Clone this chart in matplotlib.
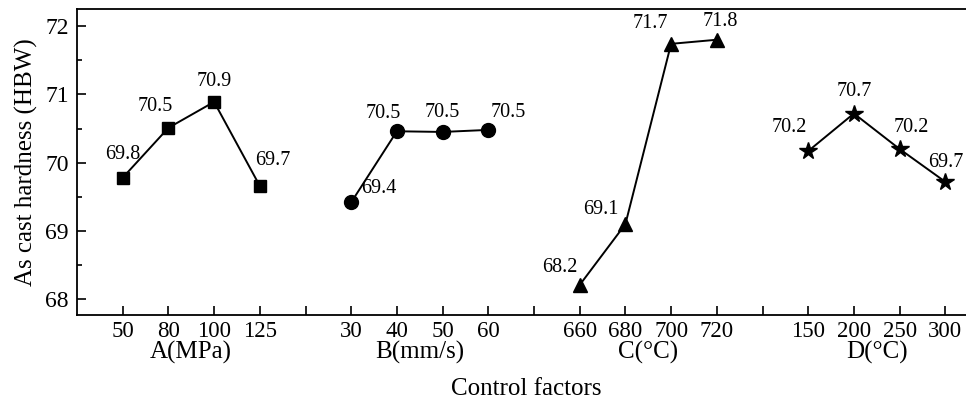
import matplotlib
matplotlib.use("Agg")
import matplotlib.pyplot as plt

plt.rcParams['font.family'] = ['Liberation Serif', 'DejaVu Serif']

# factor levels and mean hardness
factors = ["A(MPa)", "B(mm/s)", "C(\u00b0C)", "D(\u00b0C)"]
levels_A = ["50", "80", "100", "125"]
levels_B = ["30", "40", "50", "60"]
levels_C = ["660", "680", "700", "720"]
levels_D = ["150", "200", "250", "300"]
hard_A = [69.78, 70.51, 70.89, 69.66]
hard_B = [69.42, 70.46, 70.45, 70.48]
hard_C = [68.21, 69.10, 71.74, 71.80]
hard_D = [70.17, 70.72, 70.20, 69.72]

levels = [levels_A, levels_B, levels_C, levels_D]
hards = [hard_A, hard_B, hard_C, hard_D]
markers = ["s", "o", "^", "*"]
msizes = [9, 10, 10, 13]
# label offsets in pixels (dx, dy)
offs = [
    [(0, 23), (-13, 21), (0, 20), (13, 25)],
    [(28, 14), (-14, 18), (0, 19), (20, 17)],
    [(-20, 17), (-25, 15), (-21, 20), (4, 18)],
    [(-19, 24), (0, 22), (12, 22), (1, 19)],
]

fig = plt.figure(figsize=(9.66, 4), dpi=100)
ax = fig.add_axes([77/966, 85/400, 914/966, 306/400])

ticks = []
ticklabels = []
for g in range(4):
    x = [5*g + 1 + i for i in range(4)]
    ax.plot(x, hards[g], color="black", lw=1.4, marker=markers[g],
            ms=msizes[g], mfc="black", mec="black")
    for i in range(4):
        ax.annotate(f"{hards[g][i]:.1f}", (x[i], hards[g][i]),
                    xytext=offs[g][i], textcoords="offset pixels",
                    ha="center", va="center", fontsize=14.5)
    ticks += x + [5*g + 5]
    ticklabels += levels[g] + [""]
    ax.annotate(factors[g], (5*g + 2.5, 0), xycoords=("data", "axes fraction"),
                xytext=(0, -37), textcoords="offset pixels",
                ha="center", va="center", fontsize=18)

ax.set_xticks(ticks[:-1])
ax.set_xticklabels(ticklabels[:-1])
ax.set_xlim(0, 20)
ax.set_ylim(67.77, 72.25)
ax.set_yticks([68, 69, 70, 71, 72])
ax.set_yticks([68.5, 69.5, 70.5, 71.5], minor=True)

ax.tick_params(direction="in", length=6.5, width=1.2, labelsize=17, pad=6)
ax.tick_params(axis="y", which="minor", direction="in", length=3.5, width=1.2)
ax.tick_params(axis="x", labelsize=16.5, pad=4)
for s in ax.spines.values():
    s.set_linewidth(1.3)

ax.set_xlabel("Control factors", fontsize=18)
ax.xaxis.set_label_coords(0.492, -0.205)
ax.set_ylabel("As cast hardness (HBW)", fontsize=18, labelpad=5)

fig.savefig("out.png", dpi=100)
